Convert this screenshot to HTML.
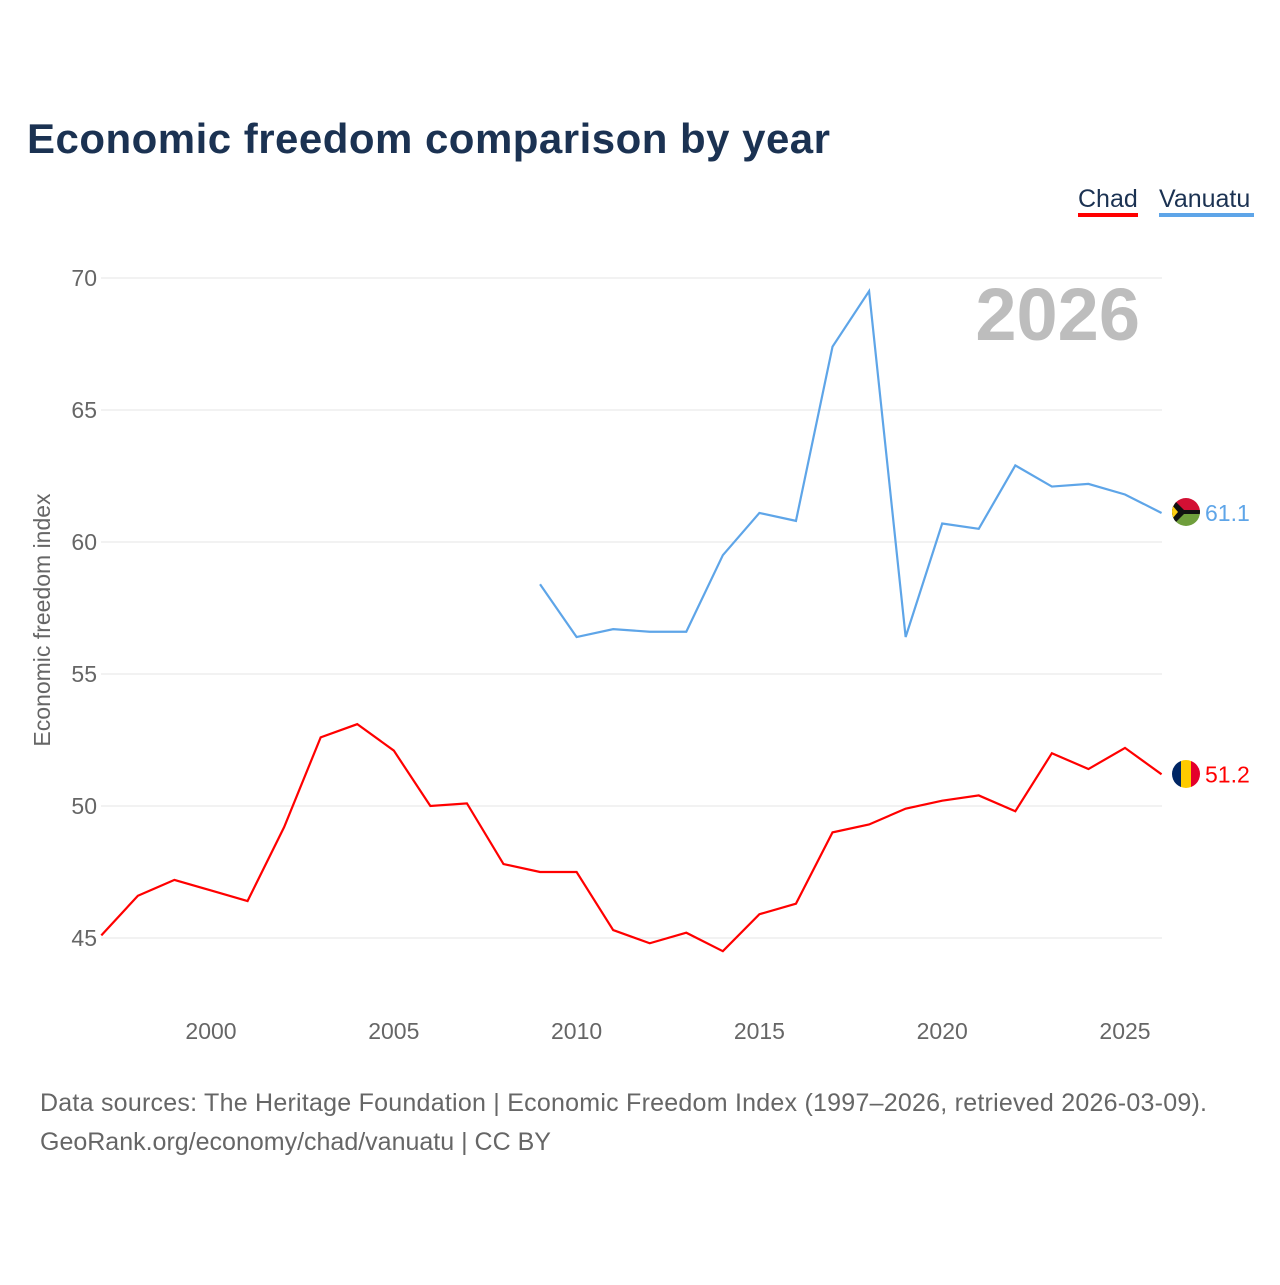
<!DOCTYPE html>
<html><head><meta charset="utf-8"><style>
body{margin:0;background:#fff;}
svg text{font-family:"Liberation Sans",sans-serif;}
</style></head><body>
<svg width="1280" height="1280" xmlns="http://www.w3.org/2000/svg">
<defs>
<clipPath id="fc1"><circle cx="1186" cy="512" r="14"/></clipPath>
<clipPath id="fc2"><circle cx="1186" cy="774" r="14"/></clipPath>
</defs>
<text x="27" y="153" font-size="42" font-weight="bold" fill="#1b3252" textLength="803">Economic freedom comparison by year</text>
<g>
<text x="1078" y="207" font-size="25" fill="#1b3252">Chad</text>
<rect x="1078" y="213" width="60" height="4" fill="#ff0000"/>
<text x="1159" y="207" font-size="25" fill="#1b3252">Vanuatu</text>
<rect x="1159" y="213" width="95" height="4" fill="#5ea5e8"/>
</g>
<text x="1140" y="340" font-size="74" font-weight="bold" fill="#bdbdbd" text-anchor="end">2026</text>
<g id="grid"></g><g id="xt"></g><g id="lines"></g>
<g clip-path="url(#fc1)">
<rect x="1170" y="496" width="32" height="16" fill="#d21034"/>
<rect x="1170" y="512" width="32" height="16" fill="#6f9e3c"/>
<rect x="1170" y="510" width="32" height="4" fill="#111"/>
<polygon points="1170,496 1186,512 1170,528" fill="#111"/>
<polygon points="1172,505 1178,512 1172,519" fill="#fdce12"/>
</g>
<g clip-path="url(#fc2)">
<rect x="1170" y="758" width="11" height="32" fill="#002664"/>
<rect x="1181" y="758" width="10" height="32" fill="#fecb00"/>
<rect x="1191" y="758" width="11" height="32" fill="#e4002b"/>
</g>
<text transform="translate(50,620) rotate(-90)" font-size="23" fill="#666" text-anchor="middle">Economic freedom index</text>
<text x="40" y="1111" font-size="25" fill="#666" textLength="1167">Data sources: The Heritage Foundation | Economic Freedom Index (1997–2026, retrieved 2026-03-09).</text>
<text x="40" y="1150" font-size="25" fill="#666">GeoRank.org/economy/chad/vanuatu | CC BY</text>
</svg>
<script>
const chadYears=[1997,1998,1999,2000,2001,2002,2003,2004,2005,2006,2007,2008,2009,2010,2011,2012,2013,2014,2015,2016,2017,2018,2019,2020,2021,2022,2023,2024,2025,2026];
const chadValues=[45.1,46.6,47.2,46.8,46.4,49.2,52.6,53.1,52.1,50.0,50.1,47.8,47.5,47.5,45.3,44.8,45.2,44.5,45.9,46.3,49.0,49.3,49.9,50.2,50.4,49.8,52.0,51.4,52.2,51.2];
const vanYears=[2009,2010,2011,2012,2013,2014,2015,2016,2017,2018,2019,2020,2021,2022,2023,2024,2025,2026];
const vanValues=[58.4,56.4,56.7,56.6,56.6,59.5,61.1,60.8,67.4,69.5,56.4,60.7,60.5,62.9,62.1,62.2,61.8,61.1];
const yTicks=[45,50,55,60,65,70];
const xTicks=[2000,2005,2010,2015,2020,2025];
const NS="http://www.w3.org/2000/svg";
const xS=y=>211+(y-2000)*36.56;
const yS=v=>278+(70-v)*26.4;
function mk(t,a,p,txt){const e=document.createElementNS(NS,t);for(const k in a)e.setAttribute(k,a[k]);if(txt!==undefined)e.textContent=txt;document.getElementById(p).appendChild(e);return e;}
yTicks.forEach(v=>{
 const l=mk('line',{x1:101,x2:1162,y1:yS(v),y2:yS(v),stroke:'#e6e6e6','stroke-width':1},'grid');
 
 
 const t=mk('text',{x:97,y:yS(v)+8,'font-size':23,fill:'#666','text-anchor':'end'},'grid',String(v));
 
 
});
xTicks.forEach(y=>{
 const t=mk('text',{x:xS(y),y:1039,'font-size':23,fill:'#666','text-anchor':'middle'},'xt',String(y));
 
 
});
function series(ys,vs,color,name){
 const p=mk('polyline',{points:ys.map((y,i)=>xS(y)+','+yS(vs[i])).join(' '),fill:'none',stroke:color,'stroke-width':2.2},'lines');
 
 
 const lv=vs[vs.length-1];
 const t=mk('text',{x:1205,y:yS(lv)+8,'font-size':23,fill:color},'lines',lv.toFixed(1));
 
 
}
series(chadYears,chadValues,'#ff0000','chad');
series(vanYears,vanValues,'#5ea5e8','vanuatu');
</script>
</body></html>
